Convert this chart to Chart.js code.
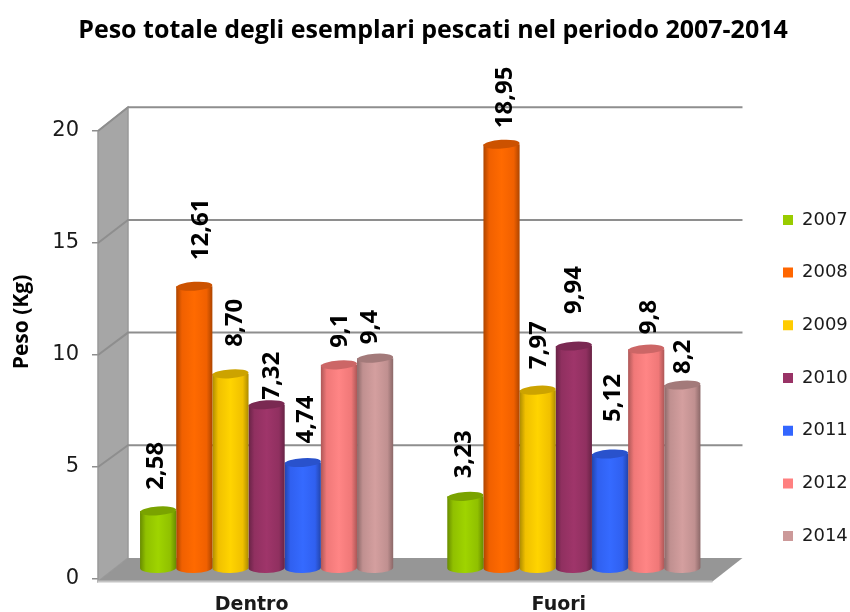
<!DOCTYPE html>
<html lang="it">
<head>
<meta charset="UTF-8">
<title>Peso totale degli esemplari pescati</title>
<script src="https://cdn.jsdelivr.net/npm/chart.js"></script>
<style>
  html, body { margin: 0; padding: 0; background: #fff; }
  canvas { display: block; }
</style>
</head>
<body>
<canvas id="chart" width="850" height="612"></canvas>
<script>
// Data
const categories = ['Dentro', 'Fuori'];
const years = ['2007', '2008', '2009', '2010', '2011', '2012', '2014'];
const series2007 = [2.58, 3.23];
const series2008 = [12.61, 18.95];
const series2009 = [8.70, 7.97];
const series2010 = [7.32, 9.94];
const series2011 = [4.74, 5.12];
const series2012 = [9.1, 9.8];
const series2014 = [9.4, 8.2];
const labelsDentro = ['2,58', '12,61', '8,70', '7,32', '4,74', '9,1', '9,4'];
const labelsFuori = ['3,23', '18,95', '7,97', '9,94', '5,12', '9,8', '8,2'];
const colors = ['#99CC00', '#FF6600', '#FFCC00', '#993366', '#3366FF', '#FF8080', '#CC9999'];
const yTicks = [0, 5, 10, 15, 20];

// The labels were dragged by hand in the original: [dx from bar centre, gap above the bar top]
const nudgeDentro = [[-2, 16], [7, 21], [5, 22], [6, 0], [3, 14], [1, 12], [-5, 9]];
const nudgeFuori = [[-1, 13], [4, 11], [1, 16], [0, 27], [3, 27], [3, 10], [1, 6]];

// 3D look: the bars stand half way between the front edge and the back wall
const barDx = 15, barDy = 10.3;
const backDx = 30;
function backDy(v) { return 21 + 0.14 * v; }

function shade(hex, f) {
  const n = parseInt(hex.slice(1), 16);
  const c = [n >> 16, (n >> 8) & 255, n & 255].map(v => Math.min(255, Math.round(v * f)));
  return `rgb(${c[0]},${c[1]},${c[2]})`;
}

const scene3d = {
  id: 'scene3d',
  afterLayout(chart) {
    // keep the legend and the title where the original has them
    const lg = chart.legend;
    lg.left = 783 - lg.options.labels.padding;
    lg.right = 850;
    lg.top += 23;
    lg.bottom += 23;
    chart.titleBlock.left += 22;
    chart.titleBlock.right += 22;
  },
  beforeDatasetsDraw(chart) {
    const { ctx, chartArea: a, scales: { y } } = chart;
    const x0 = a.left, x1 = a.right;
    const zero = y.getPixelForValue(0);
    const topV = yTicks[yTicks.length - 1];
    const top = y.getPixelForValue(topV);
    const floorFront = zero + 2.5;
    ctx.save();
    // side wall
    ctx.fillStyle = '#A6A6A6';
    ctx.strokeStyle = '#999999';
    ctx.lineWidth = 1.5;
    ctx.beginPath();
    ctx.moveTo(x0, floorFront);
    ctx.lineTo(x0, top);
    ctx.lineTo(x0 + backDx, top - backDy(topV));
    ctx.lineTo(x0 + backDx, zero - backDy(0));
    ctx.closePath();
    ctx.fill();
    ctx.stroke();
    // floor
    ctx.fillStyle = '#969696';
    ctx.beginPath();
    ctx.moveTo(x0, floorFront);
    ctx.lineTo(x0 + backDx, zero - backDy(0));
    ctx.lineTo(x1 + backDx, zero - backDy(0));
    ctx.lineTo(x1, floorFront);
    ctx.closePath();
    ctx.fill();
    ctx.strokeStyle = '#C4C4C4';
    ctx.lineWidth = 2;
    ctx.beginPath();
    ctx.moveTo(x0, floorFront);
    ctx.lineTo(x1, floorFront);
    ctx.stroke();
    // grid on the back and side walls
    ctx.strokeStyle = '#8E8E8E';
    ctx.lineWidth = 2;
    yTicks.filter(v => v > 0).forEach(v => {
      const py = y.getPixelForValue(v);
      ctx.beginPath();
      ctx.moveTo(x0, py);
      ctx.lineTo(x0 + backDx, py - backDy(v));
      ctx.lineTo(x1 + backDx, py - backDy(v));
      ctx.stroke();
    });
    // axis title
    ctx.translate(22, 322);
    ctx.rotate(-Math.PI / 2);
    ctx.fillStyle = '#000';
    ctx.font = 'bold 21px "Open Sans"';
    ctx.textAlign = 'center';
    ctx.textBaseline = 'middle';
    ctx.fillText('Peso (Kg)', 0, 0);
    ctx.restore();
  },
  // cylinders instead of flat bars
  beforeDatasetDraw(chart, args) {
    const { ctx } = chart;
    const color = colors[args.index];
    args.meta.data.forEach(bar => {
      const cx = bar.x + barDx, rx = bar.width / 2, ry = 4.4;
      const topY = bar.y - barDy, baseY = bar.base - barDy;
      const g = ctx.createLinearGradient(cx - rx, 0, cx + rx, 0);
      g.addColorStop(0, shade(color, 0.68));
      g.addColorStop(0.16, shade(color, 0.94));
      g.addColorStop(0.5, shade(color, 1.04));
      g.addColorStop(0.84, shade(color, 0.94));
      g.addColorStop(1, shade(color, 0.68));
      ctx.save();
      ctx.fillStyle = g;
      ctx.beginPath();
      ctx.ellipse(cx, baseY, rx, ry + 0.6, -0.02, 0, Math.PI);
      ctx.lineTo(cx - rx, topY);
      ctx.lineTo(cx + rx, topY);
      ctx.closePath();
      ctx.fill();
      ctx.fillStyle = shade(color, 0.8);
      ctx.beginPath();
      ctx.ellipse(cx, topY, rx, ry, -0.07, 0, Math.PI * 2);
      ctx.fill();
      ctx.restore();
    });
    return false;
  },
  afterDatasetsDraw(chart) {
    const { ctx } = chart;
    const texts = [labelsDentro, labelsFuori];
    const nudges = [nudgeDentro, nudgeFuori];
    ctx.save();
    ctx.fillStyle = '#000';
    ctx.font = 'bold 24px "Open Sans"';
    ctx.textAlign = 'left';
    ctx.textBaseline = 'middle';
    chart.data.datasets.forEach((ds, i) => {
      chart.getDatasetMeta(i).data.forEach((bar, c) => {
        const [dx, gap] = nudges[c][i];
        ctx.save();
        ctx.translate(bar.x + barDx + dx, bar.y - barDy - 5 - gap);
        ctx.rotate(-Math.PI / 2);
        ctx.fillText(texts[c][i], 0, 0);
        ctx.restore();
      });
    });
    ctx.restore();
  }
};

new Chart(document.getElementById('chart'), {
  type: 'bar',
  data: {
    labels: categories,
    datasets: [series2007, series2008, series2009, series2010, series2011, series2012, series2014].map((values, i) => ({
      label: years[i],
      data: values,
      backgroundColor: colors[i]
    }))
  },
  options: {
    responsive: false,
    animation: false,
    categoryPercentage: 0.824,
    barPercentage: 1,
    layout: { padding: { right: 28 } },
    plugins: {
      title: {
        display: true,
        text: 'Peso totale degli esemplari pescati nel periodo 2007-2014',
        color: '#000',
        font: { family: '"Open Sans"', size: 25, weight: 'bold', lineHeight: 1.2 },
        padding: { top: 16, bottom: 85 }
      },
      legend: {
        position: 'right',
        fullSize: false,
        labels: {
          boxWidth: 10,
          boxHeight: 10,
          padding: 34.7,
          color: '#1a1a1a',
          font: { family: '"DejaVu Sans"', size: 18 }
        }
      },
      tooltip: { enabled: false }
    },
    scales: {
      x: {
        grid: { display: false },
        border: { display: false },
        ticks: { color: '#1a1a1a', padding: 7, font: { family: '"DejaVu Sans"', size: 19, weight: 'bold' } },
        afterFit: s => { s.height = 33; }
      },
      y: {
        min: 0,
        max: 20,
        afterBuildTicks: s => { s.ticks = yTicks.map(v => ({ value: v })); },
        grid: { drawOnChartArea: false, tickLength: 6, color: '#8E8E8E', lineWidth: 1.5 },
        border: { display: false },
        ticks: { color: '#1a1a1a', padding: 13, font: { family: '"DejaVu Sans"', size: 21 } },
        afterFit: s => { s.width = 98; }
      }
    }
  },
  plugins: [scene3d]
});
</script>
</body>
</html>
